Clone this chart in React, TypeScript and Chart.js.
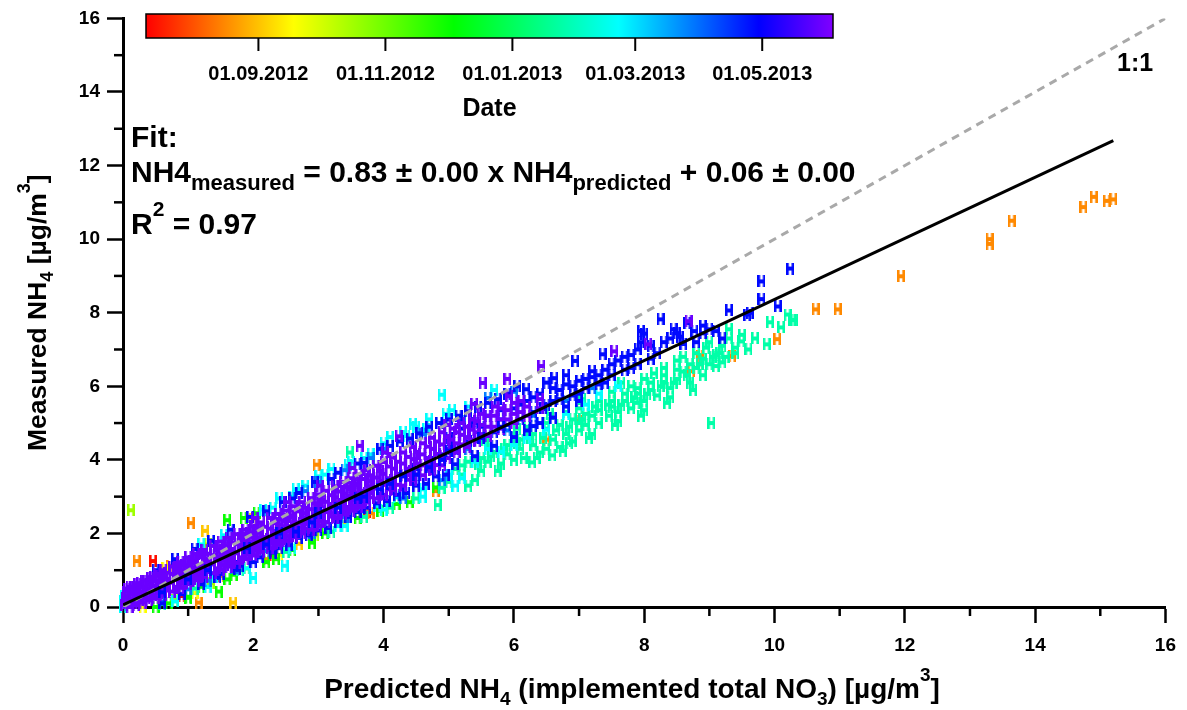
import React, { useEffect, useRef } from 'react';
import { Chart, registerables } from 'chart.js';

Chart.register(...registerables);

const FONT = '"Liberation Sans", Arial, Helvetica, sans-serif';

// ---------- axes ----------
const axisMin = 0;
const axisMax = 16;
const majorStep = 2;
const minorTickValues = [1, 3, 5, 7, 9, 11, 13, 15];

// ---------- colour bar (days since 2012-07-09) ----------
const dateRange = [0, 330];
const dateTickDays = [54, 115, 176, 235, 296];
const dateTickLabels = ['01.09.2012', '01.11.2012', '01.01.2013', '01.03.2013', '01.05.2013'];
const dateTitle = 'Date';

// ---------- fit and reference lines ----------
const fitSlope = 0.83;
const fitIntercept = 0.06;
const fitXRange = [0, 15.2];
const oneToOneLine: [number, number][] = [[0, 0], [16, 16]];
const oneToOneLabel = '1:1';

// ---------- data: [predicted, measured], grouped by date (day of campaign) ----------
const violetDay = 324;
const violetPts: [number, number][] = [
  [0.02, 0.05], [0.03, 0.25], [0.04, 0.42],
  [0.1, 0.0], [0.1, 0.2], [0.12, 0.4], [0.1, 0.55],
  [0.2, 0.05], [0.21, 0.27], [0.2, 0.46], [0.22, 0.62],
  [0.3, 0.12], [0.31, 0.34], [0.3, 0.55], [0.32, 0.72],
  [0.4, 0.18], [0.41, 0.4], [0.4, 0.62], [0.42, 0.8],
  [0.5, 0.24], [0.51, 0.47], [0.5, 0.7], [0.52, 0.9],
  [0.62, 0.33], [0.61, 0.56], [0.63, 0.8], [0.62, 1.0],
  [0.75, 0.42], [0.74, 0.66], [0.76, 0.9], [0.75, 1.1],
  [0.88, 0.52], [0.87, 0.76], [0.89, 1.0], [0.88, 1.22],
  [1.0, 0.62], [1.01, 0.86], [0.99, 1.1], [1.0, 1.35],
  [1.12, 0.72], [1.13, 0.96], [1.11, 1.2], [1.12, 1.45],
  [1.25, 0.82], [1.24, 1.06], [1.26, 1.3], [1.25, 1.55],
  [1.38, 0.92], [1.37, 1.16], [1.39, 1.41], [1.38, 1.66],
  [1.5, 1.01], [1.51, 1.26], [1.49, 1.51], [1.5, 1.78],
  [1.62, 1.1], [1.63, 1.36], [1.61, 1.61], [1.62, 1.88],
  [1.75, 1.2], [1.74, 1.46], [1.76, 1.71], [1.75, 1.98],
  [1.88, 1.3], [1.87, 1.56], [1.89, 1.82], [1.88, 2.1],
  [2.0, 1.4], [2.01, 1.65], [1.99, 1.92], [2.0, 2.2], [2.02, 2.42],
  [2.12, 1.5], [2.13, 1.76], [2.11, 2.02], [2.12, 2.3],
  [2.25, 1.6], [2.24, 1.86], [2.26, 2.13], [2.25, 2.42],
  [2.38, 1.7], [2.37, 1.96], [2.39, 2.24], [2.38, 2.53],
  [2.5, 1.8], [2.51, 2.06], [2.49, 2.34], [2.5, 2.62], [2.52, 2.85],
  [2.62, 1.9], [2.63, 2.16], [2.61, 2.44], [2.62, 2.74],
  [2.75, 2.0], [2.74, 2.27], [2.76, 2.55], [2.75, 2.85],
  [2.88, 2.1], [2.87, 2.37], [2.89, 2.66], [2.88, 2.96],
  [3.0, 2.2], [3.01, 2.48], [2.99, 2.76], [3.0, 3.06], [3.02, 3.3],
  [3.12, 2.31], [3.13, 2.58], [3.11, 2.86], [3.12, 3.16],
  [3.25, 2.42], [3.24, 2.7], [3.26, 2.98], [3.25, 3.28],
  [3.38, 2.52], [3.37, 2.8], [3.39, 3.08], [3.38, 3.4],
  [3.5, 2.62], [3.51, 2.9], [3.49, 3.2], [3.5, 3.5], [3.52, 3.78],
  [3.62, 2.72], [3.63, 3.0], [3.61, 3.3], [3.62, 3.6],
  [3.75, 2.84], [3.74, 3.1], [3.76, 3.42], [3.75, 3.72],
  [3.88, 2.95], [3.87, 3.22], [3.89, 3.52], [3.88, 3.84],
  [4.0, 3.05], [4.01, 3.32], [3.99, 3.62], [4.0, 3.94], [4.02, 4.2],
  [4.15, 3.18], [4.14, 3.45], [4.16, 3.76], [4.15, 4.06],
  [4.3, 3.3], [4.31, 3.58], [4.29, 3.9], [4.3, 4.2],
  [4.45, 3.45], [4.44, 3.7], [4.46, 4.02], [4.45, 4.35],
  [4.6, 3.58], [4.61, 3.85], [4.59, 4.15], [4.6, 4.45],
  [4.75, 3.72], [4.74, 3.98], [4.76, 4.3], [4.75, 4.6],
  [4.9, 3.85], [4.91, 4.1], [4.89, 4.42], [4.9, 4.75],
  [5.05, 4.3], [5.04, 4.55], [5.06, 4.85],
  [5.2, 4.42], [5.21, 4.68], [5.19, 5.0],
  [5.35, 4.55], [5.34, 4.82], [5.36, 5.1], [5.39, 5.52],
  [5.5, 4.7], [5.51, 4.95], [5.49, 5.25], [5.52, 6.09],
  [5.7, 4.9], [5.69, 5.2], [5.71, 5.45],
  [5.9, 5.1], [5.91, 5.35], [5.9, 6.2], [5.93, 5.73],
  [6.1, 5.3], [6.11, 5.6],
  [6.42, 6.55], [7.54, 6.95], [8.06, 7.14], [8.68, 7.77], [3.63, 4.38], [4.23, 4.64],
];
const violetFillPts: [number, number][] = [
  [0.06, 0.12], [0.06, 0.32], [0.06, 0.5],
  [0.16, 0.1], [0.16, 0.35], [0.16, 0.55],
  [0.26, 0.18], [0.26, 0.42], [0.26, 0.65],
  [0.36, 0.25], [0.36, 0.5], [0.36, 0.72],
  [0.46, 0.32], [0.46, 0.58], [0.46, 0.82],
  [0.56, 0.38], [0.56, 0.6], [0.56, 0.85],
  [0.68, 0.45], [0.68, 0.7], [0.68, 0.93],
  [0.81, 0.55], [0.81, 0.8], [0.81, 1.05],
  [0.94, 0.65], [0.94, 0.9], [0.94, 1.15],
  [1.06, 0.75], [1.06, 1.0], [1.06, 1.25],
  [1.18, 0.85], [1.18, 1.1], [1.18, 1.35],
  [1.31, 0.95], [1.31, 1.2], [1.31, 1.45],
  [1.44, 1.05], [1.44, 1.3], [1.44, 1.55],
  [1.56, 1.15], [1.56, 1.4], [1.56, 1.66],
  [1.68, 1.25], [1.68, 1.5], [1.68, 1.76],
  [1.81, 1.35], [1.81, 1.6], [1.81, 1.88],
  [1.94, 1.45], [1.94, 1.72], [1.94, 2.0],
  [2.06, 1.55], [2.06, 1.8], [2.06, 2.08],
  [2.18, 1.65], [2.18, 1.9], [2.18, 2.18],
  [2.31, 1.75], [2.31, 2.0], [2.31, 2.28],
  [2.44, 1.84], [2.44, 2.1], [2.44, 2.38],
  [2.56, 1.94], [2.56, 2.2], [2.56, 2.48],
  [2.69, 2.04], [2.69, 2.3], [2.69, 2.6],
  [2.81, 2.14], [2.81, 2.42], [2.81, 2.7],
  [2.94, 2.24], [2.94, 2.52], [2.94, 2.82],
  [3.06, 2.34], [3.06, 2.62], [3.06, 2.92],
  [3.19, 2.46], [3.19, 2.74], [3.19, 3.04],
  [3.31, 2.56], [3.31, 2.84], [3.31, 3.14],
  [3.44, 2.66], [3.44, 2.96], [3.44, 3.26],
  [3.56, 2.76], [3.56, 3.06], [3.56, 3.36],
  [3.69, 2.88], [3.69, 3.16], [3.69, 3.48],
  [3.81, 2.98], [3.81, 3.28], [3.81, 3.58],
  [3.94, 3.08], [3.94, 3.38], [3.94, 3.7],
  [4.08, 3.2], [4.08, 3.5], [4.08, 3.82],
  [4.22, 3.32], [4.22, 3.62], [4.22, 3.95],
  [4.38, 3.46], [4.38, 3.76], [4.38, 4.08],
  [4.52, 3.6], [4.52, 3.9], [4.52, 4.22],
  [4.68, 3.74], [4.68, 4.04], [4.68, 4.36],
  [4.82, 3.86], [4.82, 4.16], [4.82, 4.5],
  [4.98, 4.05], [4.98, 4.3], [4.98, 4.62], [4.98, 4.95],
  [5.12, 4.2], [5.12, 4.45], [5.12, 4.75],
  [5.28, 4.35], [5.28, 4.6], [5.28, 4.9],
  [5.44, 4.5], [5.44, 4.75], [5.44, 5.05],
  [5.6, 4.65], [5.6, 4.9], [5.6, 5.2],
  [5.8, 4.85], [5.8, 5.1], [5.8, 5.4],
  [6.0, 5.0], [6.0, 5.25], [6.0, 5.55],
  [6.2, 5.2], [6.2, 5.45],
  [6.4, 5.4], [6.4, 5.65],
];

const blueDay = 292;
const bluePts: [number, number][] = [
  [1.5, 0.9], [1.8, 1.12], [2.1, 1.35], [2.4, 1.6], [2.7, 1.88], [3.0, 2.08], [3.3, 2.32],
  [3.6, 2.58], [3.9, 2.82], [4.2, 3.05], [4.5, 3.3], [4.8, 3.55], [5.1, 3.88], [5.4, 4.1],
  [5.7, 4.38], [6.0, 4.62], [6.3, 4.92],
  [2.6, 2.95], [3.2, 3.48], [3.7, 3.92], [4.1, 4.38], [4.4, 4.58], [4.7, 4.9], [5.0, 5.1],
  [5.3, 5.32], [5.6, 5.55], [5.9, 5.8], [6.19, 5.92], [6.5, 6.1], [6.62, 6.22], [6.8, 6.3],
  [6.94, 6.69], [7.2, 6.41], [7.36, 6.87], [7.5, 6.6], [7.7, 6.8], [7.9, 7.0], [8.0, 7.43],
  [7.95, 7.5], [7.95, 7.2], [8.25, 7.82], [8.5, 7.44], [8.66, 7.72], [8.77, 7.5], [8.9, 7.44],
  [9.0, 7.55], [9.3, 8.06], [9.58, 7.95], [9.62, 8.0], [9.8, 8.85], [9.8, 8.37], [10.05, 8.17],
  [10.24, 9.2], [6.1, 5.5], [6.3, 5.7], [6.45, 5.4], [6.7, 5.9], [6.9, 6.0], [7.1, 6.2],
  [7.3, 6.3], [5.5, 4.9], [5.8, 5.1], [6.6, 5.6], [7.0, 5.8], [7.4, 6.1], [7.8, 6.5],
  [8.2, 6.9], [8.4, 7.3], [8.55, 7.35], [8.8, 7.2], [9.2, 7.3],
];
const blueFillPts: [number, number][] = [
  [4.3, 3.6], [4.5, 3.75], [4.7, 3.95], [4.9, 4.15], [5.1, 4.3], [5.3, 4.5], [5.5, 4.6],
  [5.7, 4.75], [5.9, 4.95], [6.1, 5.1], [6.3, 5.3], [6.5, 5.5], [6.7, 5.65], [6.9, 5.75],
  [7.1, 5.95], [7.3, 6.05], [7.5, 6.3], [7.7, 6.45], [7.9, 6.6], [8.1, 6.75], [6.2, 4.8],
  [6.4, 5.0], [6.6, 5.15], [6.8, 5.45], [7.0, 5.6], [5.0, 4.6], [5.2, 4.85], [5.4, 5.0],
  [5.6, 5.2], [5.8, 5.35], [6.0, 5.4], [6.2, 5.6], [6.4, 5.8], [6.6, 5.95], [6.8, 6.05],
  [7.0, 6.15], [7.2, 6.25], [7.4, 6.45], [7.6, 6.7], [7.8, 6.85], [8.1, 7.1], [8.3, 7.2],
  [8.6, 7.15], [8.45, 7.55], [8.9, 7.65], [9.1, 7.5],
];
const blueUpperEdgePts: [number, number][] = [
  [0.5, 1.0], [0.8, 1.3], [1.1, 1.58], [1.35, 1.8], [1.65, 2.1], [1.95, 2.45], [2.2, 2.6],
  [2.45, 2.85], [2.7, 3.1], [2.95, 3.4], [3.3, 3.65], [3.6, 3.9], [3.95, 4.3], [4.25, 4.5],
  [4.55, 4.72], [4.85, 5.0], [5.15, 5.2], [5.45, 5.45], [5.75, 5.65], [6.05, 6.0],
];
const blueLowerEdgePts: [number, number][] = [
  [0.6, 0.1], [0.9, 0.35], [1.2, 0.62], [1.45, 0.82], [1.75, 1.02], [2.0, 1.22], [2.3, 1.48],
  [2.55, 1.68], [2.85, 1.95], [3.15, 2.15], [3.45, 2.45], [3.75, 2.7], [4.05, 2.88],
  [4.35, 3.1], [4.65, 3.35], [4.95, 3.6],
];
// April points plotted over the May/June core
const bluePatchPts: [number, number][] = [
  [1.3, 1.0], [1.9, 1.6], [2.4, 2.0], [2.9, 2.3], [3.3, 2.7], [3.7, 3.0], [4.1, 3.35],
  [4.5, 3.6], [4.9, 4.0], [2.2, 1.7], [3.0, 2.55], [3.6, 2.95], [4.3, 3.55], [5.0, 4.25],
  [5.5, 4.6], [5.8, 4.9], [1.0, 0.75], [0.6, 0.4], [2.65, 2.05], [3.95, 3.2], [4.7, 3.8],
];

const azureDay = 262;
const azurePts: [number, number][] = [
  [1.0, 0.48], [1.3, 0.72], [2.2, 1.52], [2.9, 2.0], [3.4, 2.45], [3.4, 3.72], [4.0, 4.3],
  [4.6, 4.7], [5.2, 5.05], [5.6, 5.68], [6.0, 5.85], [3.0, 3.4], [2.8, 3.15], [3.8, 4.05],
  [4.3, 2.95], [4.9, 3.45], [0.6, 0.15], [1.7, 1.05], [5.3, 4.3], [5.9, 4.8], [6.3, 5.2],
  [6.8, 5.6], [7.2, 5.95],
];

const cyanDay = 226;
const cyanPts: [number, number][] = [
  [0.0, 0.0], [0.0, 0.15], [0.01, 0.3], [2.0, 0.79], [2.48, 1.12], [4.45, 4.98], [4.89, 5.77],
  [4.3, 4.75], [4.7, 5.1], [4.95, 5.25], [3.2, 3.75], [3.5, 3.95], [3.8, 4.15], [3.0, 3.55],
  [2.8, 3.3], [4.1, 4.62], [4.5, 4.9], [4.6, 3.2], [5.0, 3.6], [5.4, 3.95], [5.8, 4.22],
  [6.2, 4.6], [5.2, 3.5], [6.5, 4.82], [6.0, 4.4], [5.6, 4.3], [4.2, 2.98], [3.9, 2.75],
  [7.1, 5.5], [7.3, 5.8], [6.8, 5.25], [5.7, 5.9], [5.3, 5.45], [7.6, 6.0], [2.3, 2.7],
  [2.6, 3.0], [1.4, 0.82], [3.3, 2.2],
];
const cyanEdgePts: [number, number][] = [
  [1.2, 1.7], [1.55, 1.95], [2.15, 2.65], [2.4, 2.95], [2.65, 3.2], [3.1, 3.6], [3.45, 3.85],
  [3.7, 4.05], [4.0, 4.45], [4.35, 4.65], [4.65, 4.85], [5.05, 5.35],
  [0.8, 0.15], [1.3, 0.55], [1.9, 1.05], [2.6, 1.6], [3.4, 2.2], [4.0, 2.65], [4.6, 3.0],
  [5.1, 3.3],
];

const tealDay = 200;
const tealPts: [number, number][] = [
  [4.83, 2.77], [4.89, 3.24], [5.0, 3.4], [5.2, 3.6], [5.3, 3.3], [5.5, 3.7], [5.6, 3.95],
  [5.8, 3.9], [5.9, 4.15], [6.0, 4.0], [6.1, 4.3], [6.28, 3.93], [6.3, 4.4], [6.4, 4.2],
  [6.59, 4.12], [6.6, 4.55], [6.7, 4.35], [6.8, 4.7], [6.9, 4.5], [7.0, 4.8], [7.0, 5.0],
  [7.1, 4.95], [7.2, 5.2], [7.3, 5.0], [7.46, 5.2], [7.5, 5.45], [7.6, 5.3], [7.7, 5.6],
  [7.8, 5.4], [7.88, 5.55], [7.9, 5.8], [8.0, 5.6], [8.1, 5.9], [8.2, 5.75], [8.3, 6.1],
  [8.4, 5.95], [8.5, 6.2], [8.6, 6.4], [8.7, 6.1], [8.8, 6.5], [8.9, 6.3], [9.0, 6.6],
  [9.03, 5.0], [9.1, 6.55], [9.15, 6.9], [9.2, 7.1], [9.3, 7.3], [9.25, 6.8], [9.49, 7.22],
  [9.5, 7.4], [9.6, 7.0], [9.88, 7.14], [9.93, 7.74], [10.2, 7.95], [10.27, 7.8], [10.3, 7.8],
  [8.5, 6.7], [8.0, 6.2], [7.5, 5.85], [7.0, 5.4], [6.5, 5.0], [6.0, 4.6], [5.6, 4.4],
  [6.2, 4.9], [6.8, 5.3], [7.3, 5.6], [7.8, 6.0], [8.3, 6.5], [8.8, 6.9], [9.0, 7.2],
  [9.3, 7.55], [0.6, 0.08], [1.1, 0.5], [1.8, 1.0], [2.5, 1.5], [3.2, 2.05], [3.7, 2.45],
  [4.1, 2.7], [4.5, 2.95], [3.48, 4.2],
];
const tealFillPts: [number, number][] = [
  [5.1, 3.75], [5.3, 3.95], [5.5, 4.05], [5.7, 4.2], [5.9, 4.4], [6.1, 4.55], [6.3, 4.7],
  [6.5, 4.85], [6.7, 4.95], [6.9, 5.1], [7.1, 5.25], [7.3, 5.35], [7.5, 5.6], [7.7, 5.8],
  [7.9, 5.95], [8.1, 6.1], [8.3, 6.3], [8.5, 6.45], [8.7, 6.6], [8.9, 6.75], [9.1, 6.85],
  [9.4, 7.05], [5.4, 3.45], [5.75, 3.7], [6.15, 4.05], [6.5, 4.3], [6.85, 4.45], [7.2, 4.7],
  [7.6, 5.05], [8.0, 5.35], [8.4, 5.7], [8.75, 5.9],
  [5.2, 3.85], [5.45, 3.9], [5.65, 4.1], [5.85, 4.3], [6.05, 4.45], [6.25, 4.6], [6.45, 4.6],
  [6.65, 4.8], [6.85, 4.9], [7.05, 5.1], [7.25, 5.45], [7.45, 5.5], [7.65, 5.5], [7.85, 5.7],
  [8.05, 5.8], [8.25, 6.0], [8.45, 6.1], [8.65, 6.3], [8.85, 6.6], [9.05, 6.8], [9.2, 6.65],
  [9.4, 6.9], [9.7, 7.3], [10.1, 7.6], [7.15, 4.6], [7.55, 4.95], [7.95, 5.2], [8.35, 5.55],
  [8.15, 6.35], [8.6, 6.8], [7.65, 6.1], [7.05, 5.65], [6.55, 5.25], [6.05, 4.85], [5.55, 4.55],
  [8.95, 7.05], [6.35, 4.05], [6.75, 4.25],
];

const greenDay = 146;
const greenPts: [number, number][] = [
  [1.47, 0.42], [1.6, 2.36], [1.85, 2.42], [1.2, 0.55], [0.5, 0.0], [0.7, 0.1], [1.0, 0.28],
  [1.7, 0.88], [2.2, 1.22], [2.6, 1.55], [3.1, 2.0], [3.6, 2.42], [2.05, 2.55], [4.2, 2.8],
  [4.8, 3.25], [1.0, 0.25], [1.6, 0.75], [2.35, 1.3], [2.9, 1.75], [3.95, 2.62], [4.4, 2.85],
];

const yellowGreenDay = 100;
const yellowGreenPts: [number, number][] = [
  [0.12, 2.63], [0.8, 0.2], [1.35, 0.65], [1.9, 1.05], [2.95, 1.95], [1.3, 1.7],
];

const yellowDay = 72;
const yellowPts: [number, number][] = [
  [0.3, 0.0], [1.1, 0.38], [2.4, 1.42], [0.65, 1.05], [2.0, 2.4],
];

const goldDay = 55;
const goldPts: [number, number][] = [
  [1.26, 2.07], [1.69, 0.12], [0.85, 1.15], [3.4, 2.3], [2.7, 1.72],
];

const orangeDay = 38;
const orangePts: [number, number][] = [
  [0.21, 1.25], [1.04, 2.28], [1.16, 0.12], [2.97, 3.87], [7.0, 5.06], [8.72, 6.41],
  [8.85, 6.82], [8.86, 6.6], [9.35, 6.82], [10.04, 7.28], [10.63, 8.09], [10.97, 8.09],
  [11.94, 8.99], [13.3, 10.0], [13.3, 9.87], [13.64, 10.5], [14.74, 10.87], [14.9, 11.15],
  [15.1, 11.04], [15.2, 11.08], [3.8, 2.55], [4.8, 3.15], [0.72, 1.12], [1.5, 0.85],
  [6.5, 4.55], [2.2, 1.3],
];

const redDay = 4;
const redPts: [number, number][] = [
  [0.46, 1.25], [3.75, 2.57], [0.9, 0.3], [2.3, 1.4],
];

// ---------- texts ----------
type Seg = { t: string; k?: 'sub' | 'sup' };
const xTitle: Seg[] = [
  { t: 'Predicted NH' }, { t: '4', k: 'sub' }, { t: ' (implemented total NO' }, { t: '3', k: 'sub' },
  { t: ') [µg/m' }, { t: '3', k: 'sup' }, { t: ']' },
];
const yTitle: Seg[] = [
  { t: 'Measured NH' }, { t: '4', k: 'sub' }, { t: ' [µg/m' }, { t: '3', k: 'sup' }, { t: ']' },
];
const fitHeader: Seg[] = [{ t: 'Fit:' }];
const fitEquation: Seg[] = [
  { t: 'NH4' }, { t: 'measured', k: 'sub' }, { t: ' = 0.83 ± 0.00 x NH4' }, { t: 'predicted', k: 'sub' },
  { t: ' + 0.06 ± 0.00' },
];
const fitR2: Seg[] = [{ t: 'R' }, { t: '2', k: 'sup' }, { t: ' = 0.97' }];

// ---------- colour map ----------
const cmapStops: [number, number[]][] = [
  [0, [255, 0, 0]],
  [0.215, [255, 255, 0]],
  [0.448, [0, 255, 0]],
  [0.688, [0, 255, 255]],
  [0.892, [0, 0, 255]],
  [1, [128, 0, 255]],
];

function cmap(f: number): string {
  const v = Math.max(0, Math.min(1, f));
  for (let i = 1; i < cmapStops.length; i++) {
    const [f1, c1] = cmapStops[i];
    const [f0, c0] = cmapStops[i - 1];
    if (v <= f1) {
      const t = (v - f0) / (f1 - f0);
      const c = c0.map((a, j) => Math.round(a + (c1[j] - a) * t));
      return `rgb(${c[0]},${c[1]},${c[2]})`;
    }
  }
  const l = cmapStops[cmapStops.length - 1][1];
  return `rgb(${l[0]},${l[1]},${l[2]})`;
}

function colorForDay(day: number): string {
  return cmap((day - dateRange[0]) / (dateRange[1] - dateRange[0]));
}

function hGlyph(color: string): HTMLCanvasElement {
  const c = document.createElement('canvas');
  c.width = 8;
  c.height = 12;
  const g = c.getContext('2d')!;
  g.fillStyle = color;
  g.fillRect(0, 0, 2.6, 12);
  g.fillRect(5.4, 0, 2.6, 12);
  g.fillRect(0, 4, 8, 4);
  return c;
}

function drawRich(
  ctx: CanvasRenderingContext2D, segs: Seg[], x: number, y: number, size: number,
  subSize: number, align: 'left' | 'center',
) {
  const main = `bold ${size}px ${FONT}`;
  const small = `bold ${subSize}px ${FONT}`;
  let w = 0;
  for (const s of segs) {
    ctx.font = s.k ? small : main;
    w += ctx.measureText(s.t).width;
  }
  let cx = align === 'center' ? x - w / 2 : x;
  ctx.textAlign = 'left';
  ctx.textBaseline = 'alphabetic';
  ctx.fillStyle = '#000';
  for (const s of segs) {
    ctx.font = s.k ? small : main;
    const dy = s.k === 'sub' ? size * 0.26 : s.k === 'sup' ? -size * 0.6 : 0;
    ctx.fillText(s.t, cx, y + dy);
    cx += ctx.measureText(s.t).width;
  }
}

// layout of decorations (pixels)
const CB = { left: 146, right: 833, top: 14, bottom: 38 };

const overlayPlugin = {
  id: 'overlay',
  afterDraw(chart: any) {
    const ctx: CanvasRenderingContext2D = chart.ctx;
    const xs = chart.scales.x;
    const ys = chart.scales.y;
    const area = chart.chartArea;
    ctx.save();
    // minor ticks
    ctx.strokeStyle = '#000';
    ctx.lineWidth = 2.5;
    for (const v of minorTickValues) {
      const px = xs.getPixelForValue(v);
      ctx.beginPath();
      ctx.moveTo(px, area.bottom);
      ctx.lineTo(px, area.bottom + 9);
      ctx.stroke();
      const py = ys.getPixelForValue(v);
      ctx.beginPath();
      ctx.moveTo(area.left, py);
      ctx.lineTo(area.left - 9, py);
      ctx.stroke();
    }
    // colour bar
    const grad = ctx.createLinearGradient(CB.left, 0, CB.right, 0);
    for (const [f, c] of cmapStops) grad.addColorStop(f, `rgb(${c[0]},${c[1]},${c[2]})`);
    ctx.fillStyle = grad;
    ctx.fillRect(CB.left, CB.top, CB.right - CB.left, CB.bottom - CB.top);
    ctx.lineWidth = 1.5;
    ctx.strokeRect(CB.left, CB.top, CB.right - CB.left, CB.bottom - CB.top);
    ctx.lineWidth = 2;
    ctx.fillStyle = '#000';
    ctx.font = `bold 20px ${FONT}`;
    ctx.textAlign = 'center';
    ctx.textBaseline = 'alphabetic';
    dateTickDays.forEach((d, i) => {
      const px = CB.left + ((d - dateRange[0]) / (dateRange[1] - dateRange[0])) * (CB.right - CB.left);
      ctx.beginPath();
      ctx.moveTo(px, CB.bottom);
      ctx.lineTo(px, CB.bottom + 13);
      ctx.stroke();
      ctx.fillText(dateTickLabels[i], px, 80);
    });
    ctx.font = `bold 25px ${FONT}`;
    ctx.fillText(dateTitle, (CB.left + CB.right) / 2, 116);
    // 1:1 label
    ctx.textAlign = 'left';
    ctx.font = `bold 25px ${FONT}`;
    ctx.fillText(oneToOneLabel, 1117, 71);
    // fit text
    drawRich(ctx, fitHeader, 131, 147, 30, 22, 'left');
    drawRich(ctx, fitEquation, 131, 182, 30, 22, 'left');
    drawRich(ctx, fitR2, 131, 234, 30, 21, 'left');
    // axis titles
    drawRich(ctx, xTitle, 632, 698, 28, 19, 'center');
    ctx.save();
    ctx.translate(46, (area.top + area.bottom) / 2);
    ctx.rotate(-Math.PI / 2);
    drawRich(ctx, yTitle, 0, 0, 26.5, 18, 'center');
    ctx.restore();
    ctx.restore();
  },
};

// draw order: lower 'order' is painted later (on top)
const pointGroups: { day: number; pts: [number, number][]; order: number }[] = [
  { day: blueDay, pts: bluePatchPts, order: 2 },
  { day: violetDay, pts: violetPts, order: 3 },
  { day: violetDay, pts: violetFillPts, order: 4 },
  { day: blueDay, pts: bluePts, order: 5 },
  { day: blueDay, pts: blueFillPts, order: 6 },
  { day: blueDay, pts: blueUpperEdgePts, order: 7 },
  { day: blueDay, pts: blueLowerEdgePts, order: 8 },
  { day: azureDay, pts: azurePts, order: 9 },
  { day: cyanDay, pts: cyanPts, order: 10 },
  { day: cyanDay, pts: cyanEdgePts, order: 11 },
  { day: tealDay, pts: tealPts, order: 12 },
  { day: tealDay, pts: tealFillPts, order: 13 },
  { day: greenDay, pts: greenPts, order: 14 },
  { day: yellowGreenDay, pts: yellowGreenPts, order: 15 },
  { day: yellowDay, pts: yellowPts, order: 16 },
  { day: goldDay, pts: goldPts, order: 17 },
  { day: orangeDay, pts: orangePts, order: 18 },
  { day: redDay, pts: redPts, order: 19 },
];

export default function App() {
  const ref = useRef<HTMLCanvasElement | null>(null);
  useEffect(() => {
    if (!ref.current) return;
    const scatterSets = pointGroups.map((g) => ({
      data: g.pts.map(([x, y]) => ({ x, y })),
      pointStyle: hGlyph(colorForDay(g.day)),
      pointRadius: 4,
      pointBorderWidth: 0,
      showLine: false,
      order: g.order,
      clip: false as any,
    }));
    const lineSets = [
      {
        data: oneToOneLine.map(([x, y]) => ({ x, y })),
        showLine: true,
        borderColor: '#a9a9a9',
        borderWidth: 3,
        borderDash: [8, 6],
        pointRadius: 0,
        order: 1,
      },
      {
        data: fitXRange.map((x) => ({ x, y: fitSlope * x + fitIntercept })),
        showLine: true,
        borderColor: '#000',
        borderWidth: 3,
        pointRadius: 0,
        order: 0,
      },
    ];
    const tickFont = { family: FONT, size: 19, weight: 'bold' as const };
    const chart = new Chart(ref.current, {
      type: 'scatter',
      data: { datasets: [...lineSets, ...scatterSets] as any },
      options: {
        animation: false,
        responsive: true,
        maintainAspectRatio: false,
        events: [],
        layout: { padding: { top: 15, right: 20, left: 0, bottom: 0 } },
        plugins: { legend: { display: false }, tooltip: { enabled: false } },
        scales: {
          x: {
            type: 'linear',
            min: axisMin,
            max: axisMax,
            ticks: { stepSize: majorStep, color: '#000', font: tickFont, padding: 11 },
            grid: { drawOnChartArea: false, drawTicks: true, tickLength: 16, tickWidth: 2.5, tickColor: '#000' },
            border: { display: true, color: '#000', width: 3 },
            afterFit: (s: any) => { s.height = 103; },
          },
          y: {
            type: 'linear',
            min: axisMin,
            max: axisMax,
            ticks: { stepSize: majorStep, color: '#000', font: tickFont, padding: 7 },
            grid: { drawOnChartArea: false, drawTicks: true, tickLength: 16, tickWidth: 2.5, tickColor: '#000' },
            border: { display: true, color: '#000', width: 3 },
            afterFit: (s: any) => { s.width = 123; },
          },
        },
      },
      plugins: [overlayPlugin],
    });
    return () => chart.destroy();
  }, []);
  return (
    <div style={{ position: 'fixed', left: 0, top: 0, width: 1187, height: 710, background: '#fff' }}>
      <canvas ref={ref} />
    </div>
  );
}
